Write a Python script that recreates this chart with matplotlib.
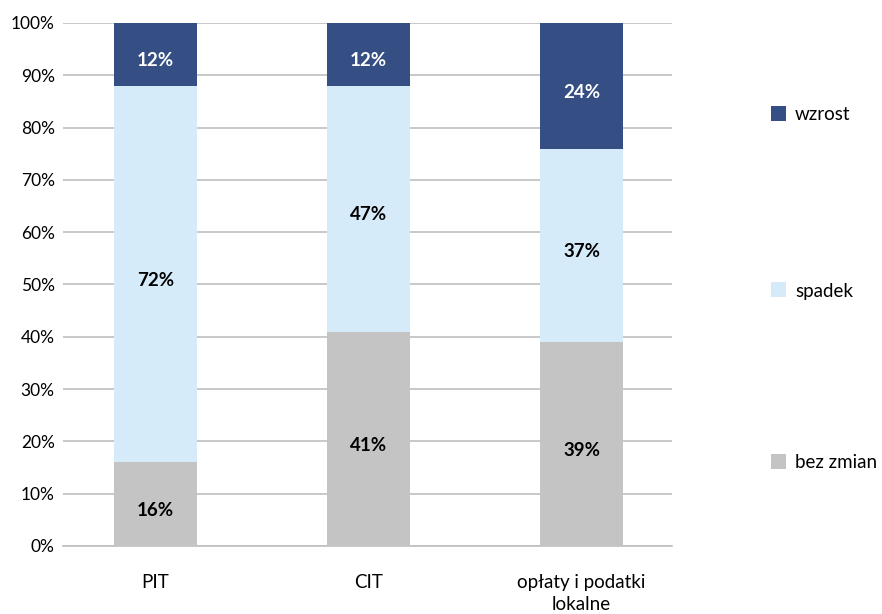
import matplotlib
matplotlib.use("Agg")
import matplotlib.pyplot as plt
from matplotlib.patches import Rectangle
import numpy as np

categories = ["PIT", "CIT", "opłaty i podatki\nlokalne"]
bez_zmian = [16, 41, 39]
spadek = [72, 47, 37]
wzrost = [12, 12, 24]
yticks = [0, 10, 20, 30, 40, 50, 60, 70, 80, 90, 100]

plt.rcParams['font.family'] = ['Lato', 'DejaVu Sans']

W, H = 882, 614
fig = plt.figure(figsize=(W / 100, H / 100), dpi=100)
ax = fig.add_axes([63 / W, 1 - 546 / H, (672 - 63) / W, (546 - 23) / H])

c_gray = "#C4C4C4"
c_light = "#D5EBF9"
c_dark = "#354F85"

x = np.arange(len(categories))
bw = 0.39
b1 = np.array(bez_zmian)
b2 = b1 + np.array(spadek)
ax.bar(x, bez_zmian, bw, color=c_gray, zorder=3)
ax.bar(x, spadek, bw, bottom=b1, color=c_light, zorder=3)
ax.bar(x, wzrost, bw, bottom=b2, color=c_dark, zorder=3)

lab_fs = 13.5
for i in range(len(categories)):
    for val, base, col in ((bez_zmian[i], 0, "black"),
                           (spadek[i], b1[i], "black"),
                           (wzrost[i], b2[i], "white")):
        ax.annotate(f"{val}%", (x[i], base + val / 2), xytext=(0, -4.5),
                    textcoords="offset points", ha="center", va="center",
                    fontsize=lab_fs, fontweight="bold", color=col, zorder=4)

ax.set_xlim(-0.434, 2.425)
ax.set_ylim(0, 100)
ax.set_yticks(yticks)
ax.set_yticklabels([f"{v}%" for v in yticks], fontsize=12.5)
ax.set_xticks(x)
ax.set_xticklabels(categories, fontsize=13.5, linespacing=1.35)
ax.tick_params(axis="both", length=0, colors="#000000")
ax.tick_params(axis="y", pad=6)
ax.tick_params(axis="x", pad=20)
ax.yaxis.grid(True, color="#BFBFBF", linewidth=1.2, zorder=0)
for s in ["top", "right", "left"]:
    ax.spines[s].set_visible(False)
ax.spines["bottom"].set_color("#BFBFBF")
ax.spines["bottom"].set_linewidth(1.2)

# legend
leg = [("wzrost", c_dark, 113), ("spadek", c_light, 289), ("bez zmian", c_gray, 461)]
for lab, col, yc in leg:
    fig.patches.append(Rectangle((771 / W, 1 - (yc + 8) / H), 15 / W, 15 / H,
                                 transform=fig.transFigure, facecolor=col, edgecolor="none"))
    fig.text(795 / W, 1 - (yc + 2) / H, lab, fontsize=13.5, va="center", ha="left")

fig.savefig("out.png", dpi=100)
